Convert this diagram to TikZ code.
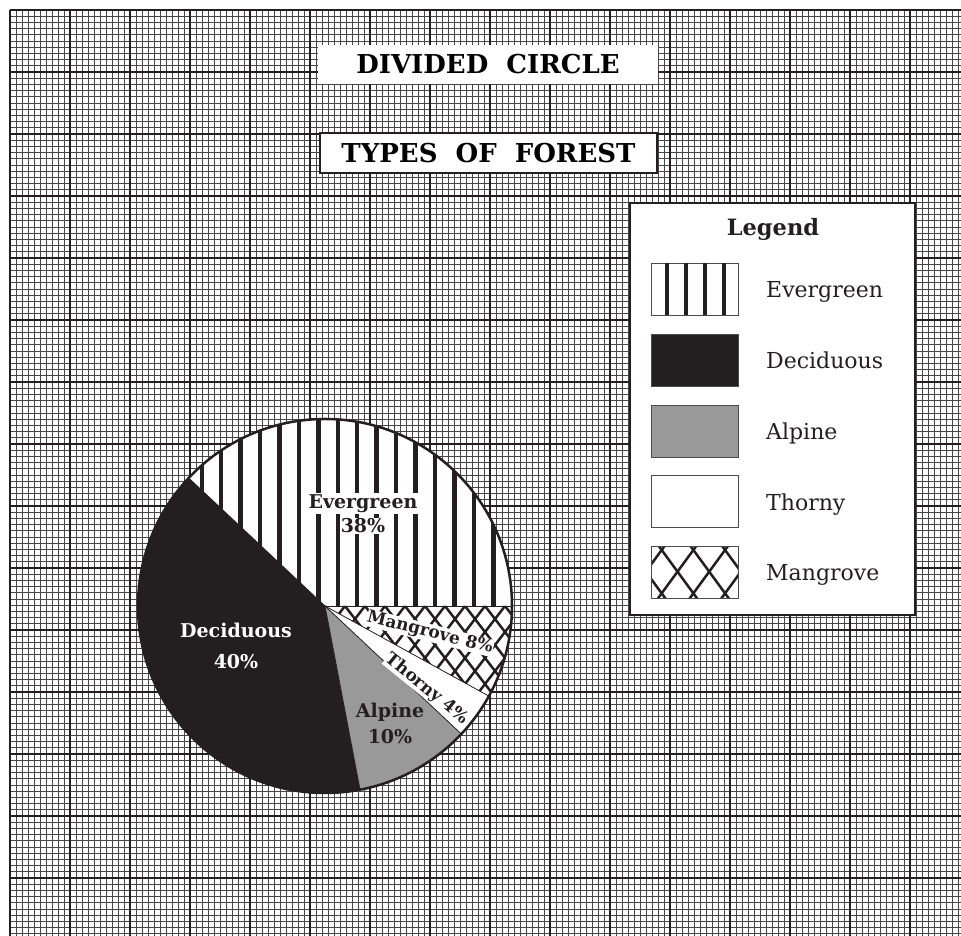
\documentclass[tikz,border=0pt]{standalone}
\usepackage{fontspec}
\setmainfont{DejaVu Serif}
\definecolor{darkfill}{HTML}{231F20}
\definecolor{alpinegray}{HTML}{999999}
\tikzset{
  major/.style={line width=2.2pt, draw=darkfill},
  minor/.style={line width=0.9pt, draw=black!72},
  hatch/.style={line width=2.5pt, draw=darkfill},
  titlebox/.style={fill=white, minimum width=340pt, minimum height=39pt,
    inner sep=0pt, font=\bfseries\fontsize{26}{28}\selectfont},
  swatch/.style={draw=black!70, line width=0.8pt, minimum width=87pt,
    minimum height=52pt, inner sep=0pt},
  legtext/.style={anchor=west, inner sep=0pt, text height=16.8pt, text depth=0pt,
    font=\fontsize{22}{24}\selectfont},
  pielabel/.style={anchor=base, inner sep=1pt, font=\bfseries\fontsize{19}{22}\selectfont},
  slantlabel/.style={inner sep=0.5pt, fill=white, text=darkfill,
    font=\bfseries\fontsize{17}{20}\selectfont}
}
\begin{document}
\begin{tikzpicture}[x=1pt,y=1pt]
  \useasboundingbox (0,0) rectangle (961,936);
  \clip (0,0) rectangle (961,936);
  % graph paper
  \foreach \i in {0,...,158} \draw[minor] ({10+6*\i},0) -- ({10+6*\i},926);
  \foreach \j in {0,...,149} \draw[minor] (10,{926-6.2*\j}) -- (961,{926-6.2*\j});
  \foreach \i in {0,...,15} \draw[major] ({10+60*\i},0) -- ({10+60*\i},926);
  \foreach \j in {0,...,14} \draw[major] (10,{926-62*\j}) -- (961,{926-62*\j});

  % titles
  \node[titlebox] (divided) at (488,871.5) {DIVIDED\ \ CIRCLE};
  \node[titlebox, draw=darkfill, line width=2pt, minimum width=337pt,
    minimum height=40pt] (types) at (488.5,783) {TYPES\ \ OF\ \ FOREST};

  % pie
  \coordinate (o) at (325,330);
  \fill[white] (o) circle (187);
  \fill[darkfill] (o) -- ++(136.8:187) arc[start angle=136.8, end angle=280.8, radius=187] -- cycle;
  \fill[alpinegray] (o) -- ++(280.8:187) arc[start angle=280.8, end angle=316.8, radius=187] -- cycle;
  \begin{scope} % evergreen stripes
    \clip (o) -- ++(0:187) arc[start angle=0, end angle=136.8, radius=187] -- cycle;
    \foreach \k in {0,...,15} \fill[darkfill] ({199.5+19.44*\k},330) rectangle ++(4.4,190);
  \end{scope}
  \begin{scope} % mangrove cross hatch
    \clip (o) -- ++(331.2:187) arc[start angle=331.2, end angle=360, radius=187] -- cycle;
    \foreach \k in {-6,...,16} {
      \draw[hatch] ({325+20*\k},330) ++(-100,130) -- ++(200,-260);
      \draw[hatch] ({325+20*\k},330) ++(-100,-130) -- ++(200,260); }
  \end{scope}
  \foreach \a in {0,136.8,280.8,316.8,331.2} \draw[line width=0.8pt, darkfill] (o) -- ++(\a:187);
  \draw[line width=2.5pt, darkfill] (o) circle (187);

  % pie labels
  \node[pielabel, fill=white, text=darkfill] (evlab) at (363,427.7) {Evergreen};
  \node[pielabel, fill=white, text=darkfill] (evpct) at (363,403) {38\%};
  \node[pielabel, text=white] (declab) at (236,298.5) {Deciduous};
  \node[pielabel, text=white] (decpct) at (236,267.5) {40\%};
  \node[pielabel, text=darkfill] (alplab) at (390,218.5) {Alpine};
  \node[pielabel, text=darkfill] (alppct) at (390,192) {10\%};
  \node[slantlabel, rotate=-14] (manlab) at (430,303) {Mangrove 8\%};
  \node[slantlabel, rotate=-39] (tholab) at (427,247) {Thorny 4\%};

  % legend
  \node[draw=darkfill, line width=2.5pt, fill=white, minimum width=285pt,
    minimum height=412pt, inner sep=0pt] (legend) at (772.5,527) {};
  \node[font=\bfseries\fontsize{22.5}{24}\selectfont, text=darkfill] (legtitle) at (773,707) {Legend};
  \foreach \name/\col/\lab [count=\i from 0] in {ev/white/Evergreen, dec/darkfill/Deciduous,
      alp/alpinegray/Alpine, tho/white/Thorny, man/white/Mangrove} {
    \node[swatch, fill=\col] (sw\name) at (694.5,{646.5-70.75*\i}) {};
    \node[legtext, text=darkfill] (lab\name) at (766,{646.5-70.75*\i}) {\lab};
  }
  \foreach \sx in {667,686,705,724} \fill[darkfill] (\sx-2.2,620.5) rectangle (\sx+2.2,672.5);
  \begin{scope}
    \clip (651,337.5) rectangle (738,389.5);
    \foreach \k in {-3,...,5} {
      \draw[hatch] ({661.7+31.7*\k},386) ++(-50,68.3) -- ++(100,-136.7);
      \draw[hatch] ({661.7+31.7*\k},386) ++(-50,-68.3) -- ++(100,136.7); }
  \end{scope}
  \node[swatch] at (swman) {};
\end{tikzpicture}
\end{document}
